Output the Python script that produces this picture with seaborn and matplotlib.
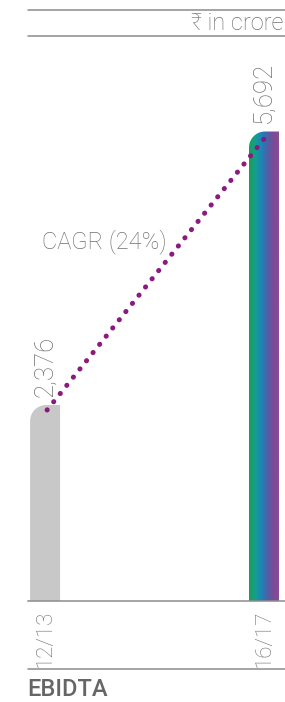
import numpy as np
import matplotlib
matplotlib.use("Agg")
import matplotlib.pyplot as plt
import matplotlib.transforms as mtransforms
from matplotlib.path import Path
from matplotlib.patches import PathPatch
from matplotlib.colors import LinearSegmentedColormap
from matplotlib.lines import Line2D
import seaborn as sns

# data
years = ["12/13", "16/17"]
ebitda = [2376, 5692]
value_labels = ["2,376", "5,692"]
cagr_label = "CAGR (24%)"
unit_label = "₹ in crore"
title = "EBIDTA"

sns.set_theme(style="white")
plt.rcParams["font.family"] = ["Roboto", "Noto Sans", "DejaVu Sans"]

TXT = "#707070"
LINE = "#8c8c8c"

fig = plt.figure(figsize=(2.85, 7.02), dpi=100)
W, H = 285, 702
ax = fig.add_axes([28 / W, (H - 601) / H, (W - 28) / W, (601 - 36) / H])

sns.barplot(x=years, y=ebitda, color="#c8c8c8", width=0.137, ax=ax)
ax.set_xlim(-0.078, 1.096)
ax.set_ylim(0, 6850)

for s in ["top", "right", "left"]:
    ax.spines[s].set_visible(False)
ax.spines["bottom"].set_color(LINE)
ax.spines["bottom"].set_linewidth(1.1)
ax.set_yticks([])
ax.set_ylabel("")
ax.tick_params(axis="x", length=0, pad=6, labelsize=16, labelcolor=TXT)
for lab in ax.get_xticklabels():
    lab.set_rotation(90)
    lab.set_fontweight("light")

# pixel -> data scale for the rounded corner
fig.canvas.draw()
p0 = ax.transData.transform((0, 0))
p1 = ax.transData.transform((1, 1))
sx = p1[0] - p0[0]
sy = p1[1] - p0[1]
r_px = 16
rx, ry = r_px / sx, r_px / sy
k = 0.5523


def rounded_bar(x0, x1, top):
    verts = [
        (x0, 0), (x1, 0), (x1, top), (x0 + rx, top),
        (x0 + rx - k * rx, top), (x0, top - ry + k * ry), (x0, top - ry),
        (x0, 0),
    ]
    codes = [Path.MOVETO, Path.LINETO, Path.LINETO, Path.LINETO,
             Path.CURVE4, Path.CURVE4, Path.CURVE4, Path.CLOSEPOLY]
    return Path(verts, codes)


grad = LinearSegmentedColormap.from_list(
    "g", ["#1c9e55", "#14a08c", "#1a86b8", "#4a63a8", "#7a4a98", "#8a4a92"])

for i, bar in enumerate(ax.patches):
    x0 = bar.get_x()
    x1 = x0 + bar.get_width()
    top = bar.get_height()
    bar.set_visible(False)
    path = rounded_bar(x0, x1, top)
    if i == 0:
        ax.add_patch(PathPatch(path, facecolor="#c8c8c8", edgecolor="none"))
    else:
        clip = PathPatch(path, facecolor="none", edgecolor="none")
        ax.add_patch(clip)
        im = ax.imshow(np.linspace(0, 1, 256).reshape(1, -1), cmap=grad,
                       extent=[x0, x1, 0, top], aspect="auto", zorder=2)
        im.set_clip_path(clip)
    ax.annotate(value_labels[i], (i, top), xytext=(0, 6),
                textcoords="offset points", rotation=90, ha="center",
                va="bottom", fontsize=18.5, color=TXT, fontweight="light")

ax.set_xlim(-0.078, 1.096)
ax.set_ylim(0, 6850)

# CAGR dotted line
off = mtransforms.offset_copy(ax.transData, fig=fig, x=2, y=-5, units="dots")
ax.add_line(Line2D([0, 1], ebitda, transform=off, color="#8b1a80", lw=3.6,
                   dashes=(0.05, 2.05), dash_capstyle="round", zorder=6))
ax.text(0.27, 4360, cagr_label, ha="center", va="center", fontsize=17,
        color=TXT, fontweight="light")

# rules and labels around the chart
for y in [10, 36, 669]:
    fig.add_artist(Line2D([28 / W, 1], [1 - y / H, 1 - y / H],
                          color=LINE, lw=1.1))
fig.text(283 / W, 1 - 23 / H, unit_label, ha="right", va="center",
         fontsize=17, color=TXT, fontweight="light")
fig.text(27 / W, 1 - 690 / H, title, ha="left", va="center",
         fontsize=17, color="#666666", fontweight="medium")

fig.savefig("out.png", dpi=100)
